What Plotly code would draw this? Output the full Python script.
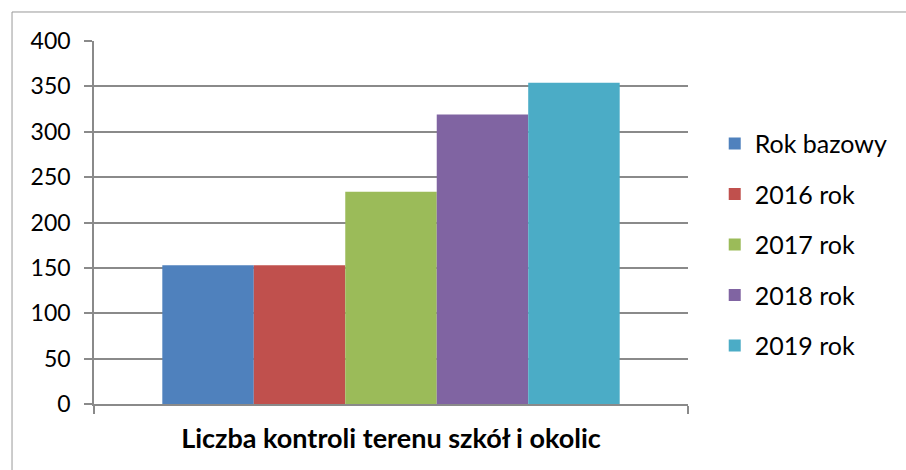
import plotly.graph_objects as go

# dane
categories = ['Liczba kontroli terenu szkół i okolic']
series_names = ['Rok bazowy', '2016 rok', '2017 rok', '2018 rok', '2019 rok']
series_values = [153, 153, 234, 319, 354]
colors = ['#4F81BD', '#C0504D', '#9BBB59', '#8064A2', '#4BACC6']
y_ticks = [0, 50, 100, 150, 200, 250, 300, 350, 400]

fig = go.Figure()
for i, name in enumerate(series_names):
    fig.add_trace(go.Bar(
        x=categories, y=[series_values[i]], name=name,
        marker_color=colors[i], marker_line_width=0,
        legendgroup=name,
    ))

grey = '#8a8a8a'
fig.update_layout(
    width=906, height=470,
    margin=dict(l=94, r=218, t=41, b=66),
    paper_bgcolor='white', plot_bgcolor='white',
    barmode='group', bargap=0.23, bargroupgap=0,
    font=dict(family='Lato', size=23, color='black'),
    legend=dict(x=1.045, xanchor='left', y=0.439, yanchor='middle',
                traceorder='grouped', tracegroupgap=15,
                font=dict(size=25)),
)
fig.update_yaxes(range=[0, 400], tickvals=y_ticks, showgrid=True,
                 gridcolor=grey, gridwidth=1.5, showline=True, linecolor=grey,
                 linewidth=1.5, ticks='outside', ticklen=8, tickcolor=grey,
                 tickwidth=1.5, ticklabelstandoff=9, zeroline=False)
fig.update_xaxes(showline=True, linecolor=grey, linewidth=1.5, ticks='outside',
                 tickson='boundaries', ticklen=8, tickcolor=grey, tickwidth=1.5,
                 tickfont=dict(family='Lato', size=27, weight='bold'),
                 ticklabelstandoff=10)

# ramka wykresu
fig.add_shape(type='line', xref='paper', yref='paper', x0=-0.138, x1=1.4,
              y0=1.0799, y1=1.0799, line=dict(color='#999999', width=1))
fig.add_shape(type='line', xref='paper', yref='paper', x0=-0.138, x1=-0.138,
              y0=1.0799, y1=-0.2, line=dict(color='#999999', width=1))

# bez marginesu body, żeby wykres zaczynał się w (0,0)
fig.write_html('out.html', config={'displayModeBar': False},
               post_script="document.body.style.margin='0';")
